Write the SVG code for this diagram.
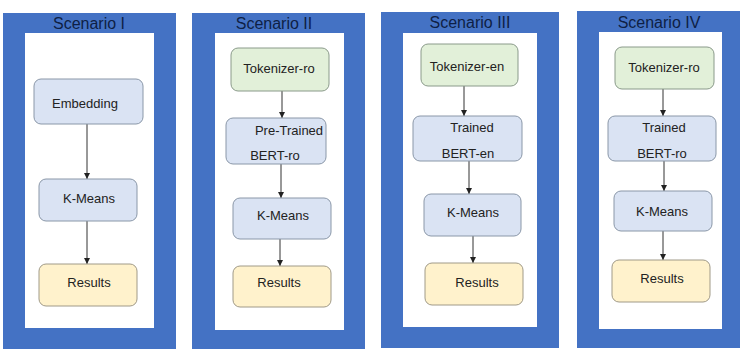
<svg xmlns="http://www.w3.org/2000/svg" width="742" height="349" viewBox="0 0 742 349">
<style>
.outer{fill:#4472C4;}
.inner{fill:#FFFFFF;}
.title{font-family:"Liberation Sans",Arial,sans-serif;font-size:16px;fill:#0E1F45;text-anchor:middle;}
.lbl{font-family:"Liberation Sans",Arial,sans-serif;font-size:13px;fill:#222222;text-anchor:middle;}
.blue{fill:#DAE3F3;stroke:#8A97A8;stroke-width:1;}
.green{fill:#E2F0D9;stroke:#8A9A8A;stroke-width:1;}
.yellow{fill:#FFF2CC;stroke:#A09A88;stroke-width:1;}
.conn line{stroke:#333333;stroke-width:1;marker-end:url(#ah);}
</style>
<defs>
<marker id="ah" viewBox="0 0 8 8" refX="8" refY="4" markerWidth="6" markerHeight="6" orient="auto" markerUnits="userSpaceOnUse">
<path d="M0,0 L8,4 L0,8 z" fill="#222222"/>
</marker>
</defs>
<rect width="742" height="349" fill="#FFFFFF"/>

<g id="scenario1">
<rect class="outer" x="3" y="13" width="173" height="336"/>
<rect class="inner" x="25" y="33" width="129" height="295"/>
<text class="title" x="89" y="29">Scenario I</text>
</g>
<g id="scenario2">
<rect class="outer" x="192" y="13" width="173" height="336"/>
<rect class="inner" x="215" y="33" width="129" height="297"/>
<text class="title" x="274" y="29">Scenario II</text>
</g>
<g id="scenario3">
<rect class="outer" x="381" y="12" width="178" height="336"/>
<rect class="inner" x="403" y="33" width="134" height="294"/>
<text class="title" x="470" y="28">Scenario III</text>
</g>
<g id="scenario4">
<rect class="outer" x="577" y="11" width="163" height="337"/>
<rect class="inner" x="599" y="32" width="123" height="297"/>
<text class="title" x="659" y="28">Scenario IV</text>
</g>

<g id="connectors" class="conn">
<line x1="87" y1="124" x2="87" y2="179"/>
<line x1="87" y1="221" x2="87" y2="264"/>
<line x1="282" y1="91" x2="282" y2="118"/>
<line x1="281" y1="164" x2="281" y2="198"/>
<line x1="280" y1="239" x2="280" y2="266"/>
<line x1="464" y1="86" x2="464" y2="116"/>
<line x1="469" y1="161" x2="469" y2="194"/>
<line x1="473" y1="236" x2="473" y2="263"/>
<line x1="663" y1="89" x2="663" y2="116"/>
<line x1="664" y1="161" x2="664" y2="191"/>
<line x1="663" y1="231" x2="663" y2="260"/>
</g>

<g id="s1-embedding">
<rect class="blue" x="34" y="79" width="109" height="45" rx="7"/>
<text class="lbl" x="85" y="108">Embedding</text>
</g>
<g id="s1-kmeans">
<rect class="blue" x="39" y="179" width="98" height="42" rx="7"/>
<text class="lbl" x="89" y="203">K-Means</text>
</g>
<g id="s1-results">
<rect class="yellow" x="39" y="264" width="98" height="42" rx="7"/>
<text class="lbl" x="89" y="287">Results</text>
</g>

<g id="s2-tokenizer">
<rect class="green" x="231" y="48" width="98" height="43" rx="7"/>
<text class="lbl" x="279" y="73">Tokenizer-ro</text>
</g>
<g id="s2-bert">
<rect class="blue" x="226" y="118" width="100" height="46" rx="7"/>
<text class="lbl" x="289" y="135">Pre-Trained</text>
<text class="lbl" x="275" y="160">BERT-ro</text>
</g>
<g id="s2-kmeans">
<rect class="blue" x="233" y="198" width="98" height="41" rx="7"/>
<text class="lbl" x="283" y="220">K-Means</text>
</g>
<g id="s2-results">
<rect class="yellow" x="233" y="266" width="98" height="41" rx="7"/>
<text class="lbl" x="279" y="287">Results</text>
</g>

<g id="s3-tokenizer">
<rect class="green" x="421" y="44" width="97" height="42" rx="7"/>
<text class="lbl" x="467" y="71">Tokenizer-en</text>
</g>
<g id="s3-bert">
<rect class="blue" x="413" y="116" width="109" height="45" rx="7"/>
<text class="lbl" x="472" y="132">Trained</text>
<text class="lbl" x="468" y="158">BERT-en</text>
</g>
<g id="s3-kmeans">
<rect class="blue" x="424" y="194" width="97" height="42" rx="7"/>
<text class="lbl" x="473" y="217">K-Means</text>
</g>
<g id="s3-results">
<rect class="yellow" x="425" y="263" width="98" height="42" rx="7"/>
<text class="lbl" x="477" y="287">Results</text>
</g>

<g id="s4-tokenizer">
<rect class="green" x="615" y="47" width="99" height="42" rx="7"/>
<text class="lbl" x="664" y="72">Tokenizer-ro</text>
</g>
<g id="s4-bert">
<rect class="blue" x="608" y="116" width="108" height="45" rx="7"/>
<text class="lbl" x="664" y="132">Trained</text>
<text class="lbl" x="662" y="158">BERT-ro</text>
</g>
<g id="s4-kmeans">
<rect class="blue" x="614" y="191" width="98" height="40" rx="7"/>
<text class="lbl" x="662" y="216">K-Means</text>
</g>
<g id="s4-results">
<rect class="yellow" x="612" y="260" width="98" height="42" rx="7"/>
<text class="lbl" x="662" y="283">Results</text>
</g>
</svg>
